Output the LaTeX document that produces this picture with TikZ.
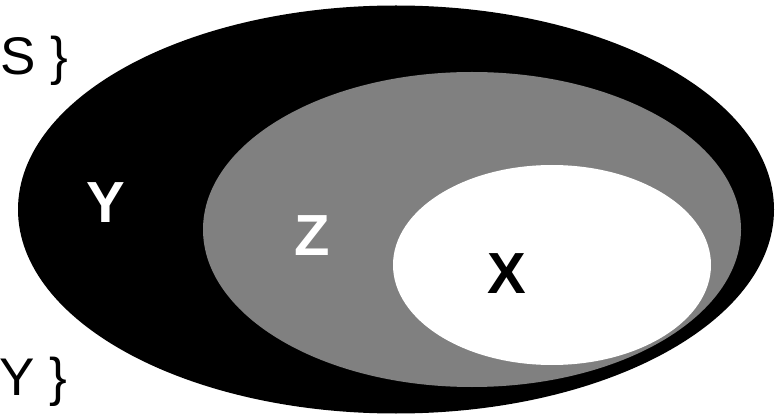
\documentclass[tikz,border=0pt]{standalone}
\usepackage{fontspec}
\setmainfont{Liberation Sans}
\begin{document}
\begin{tikzpicture}[x=1pt,y=-1pt,
  lbl/.style={inner sep=0pt,anchor=base,font=\fontsize{58}{58}\selectfont\bfseries},
  side/.style={inner sep=0pt,anchor=base west,font=\fontsize{53}{53}\selectfont}]
\useasboundingbox (0,0) rectangle (782,414);
\fill[black] (396,209.5) ellipse [x radius=378, y radius=204];
\fill[black!50] (472,229.5) ellipse [x radius=269, y radius=157.5];
\fill[white] (552,265) ellipse [x radius=159, y radius=100];
\node[lbl,text=white] (y) at (106,223) {Y};
\node[lbl,text=white] (z) at (312,255) {Z};
\node[lbl,text=black] (x) at (507,294) {X};
\node[side] (s) at (0,75) {S \}};
\node[side] (yy) at (-1,395) {Y \}};
\end{tikzpicture}
\end{document}
